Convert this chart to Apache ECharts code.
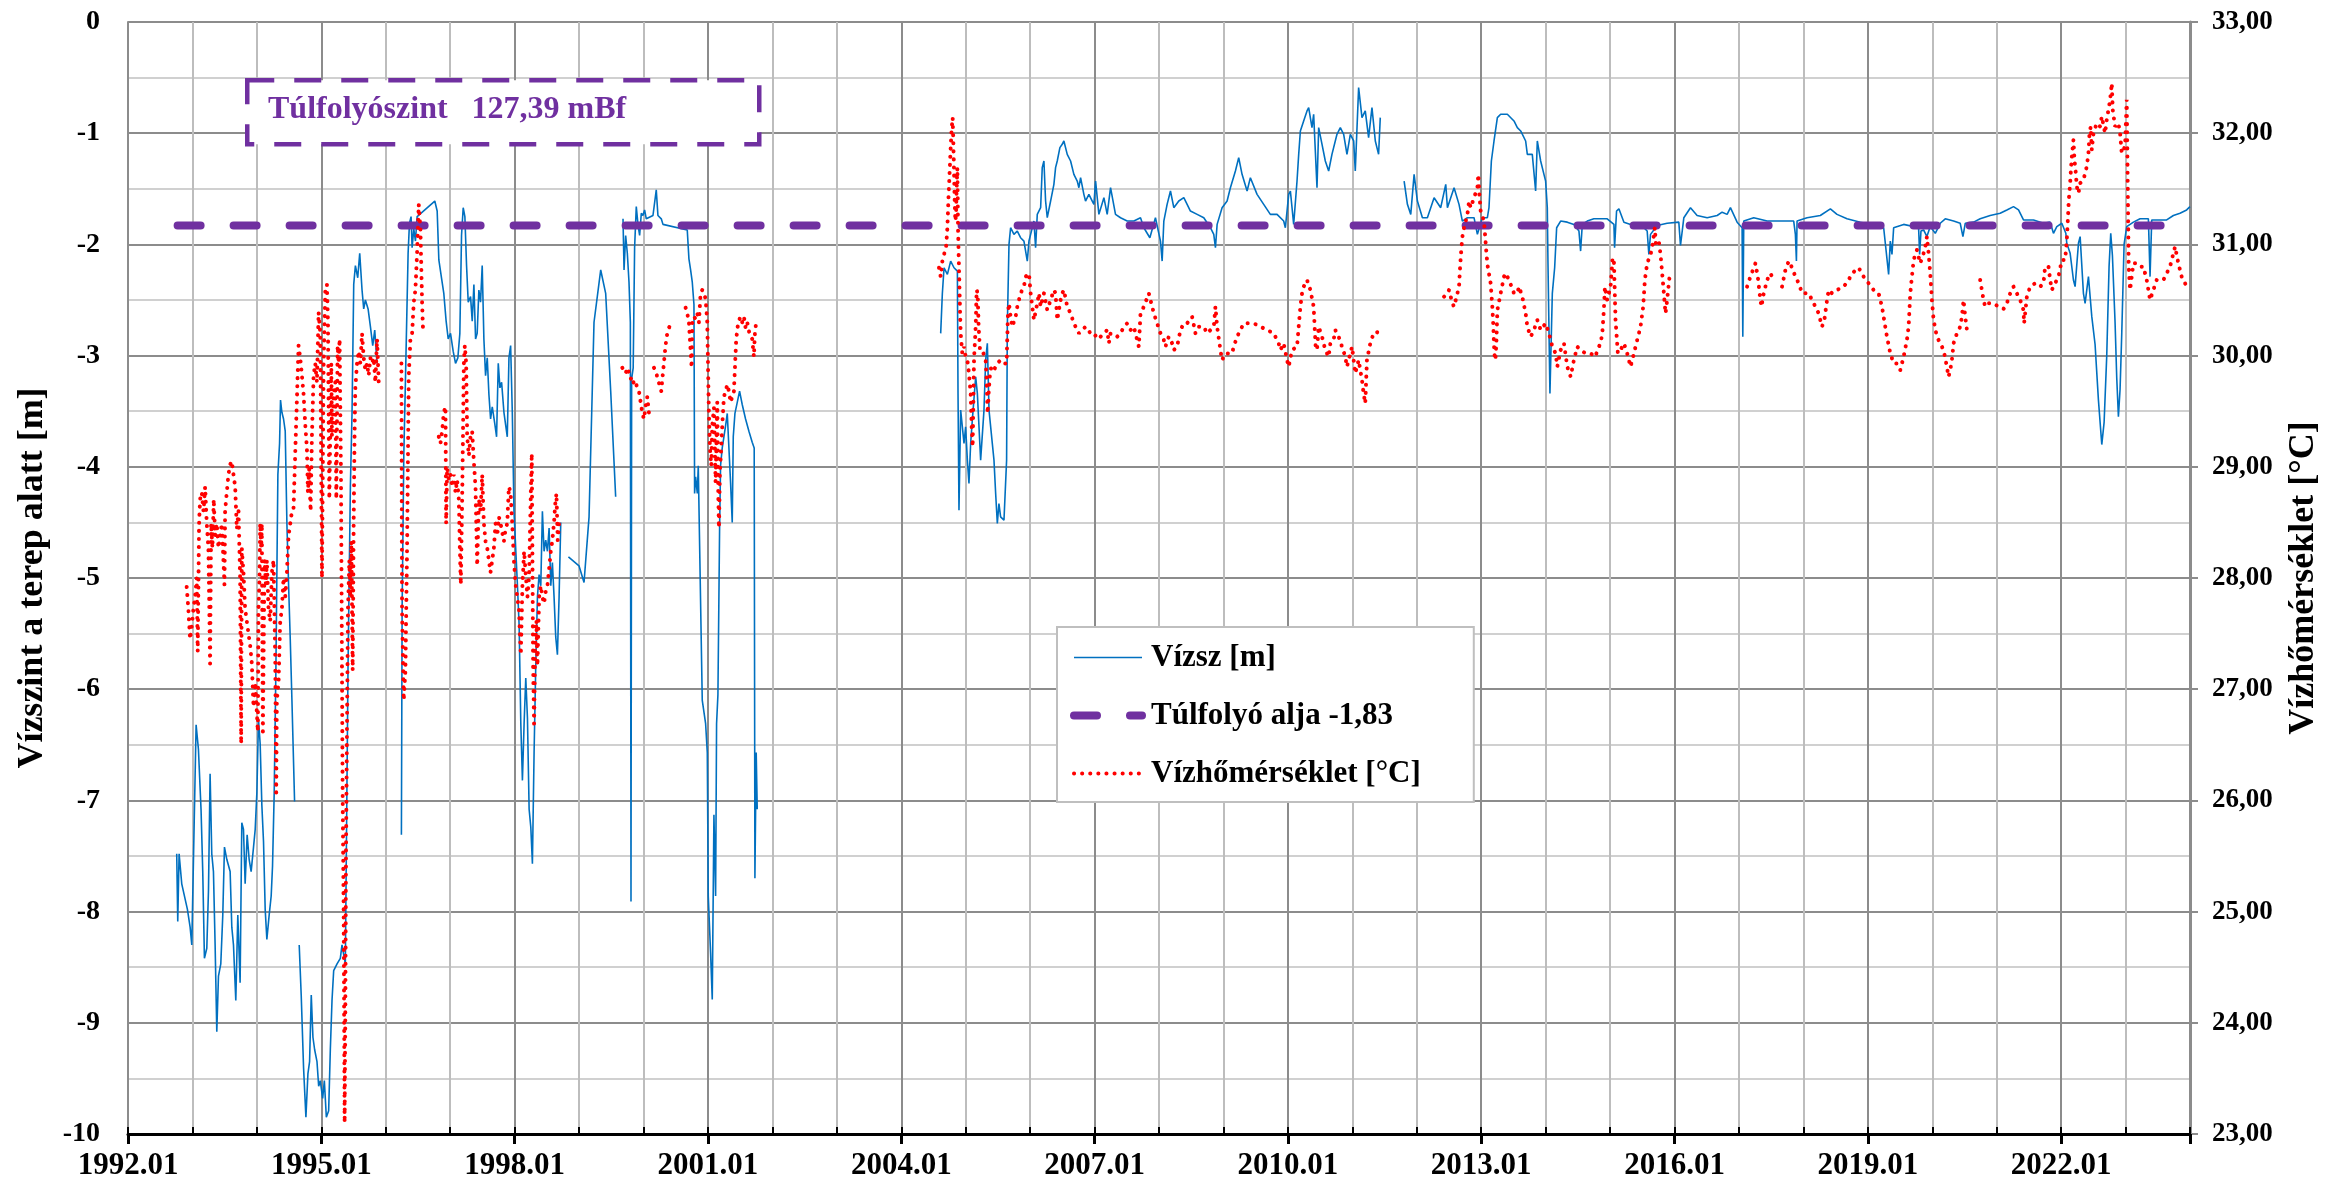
<!DOCTYPE html>
<html>
<head>
<meta charset="utf-8">
<script src="https://cdn.jsdelivr.net/npm/echarts@6/dist/echarts.min.js"></script>
<style>
  html, body { margin: 0; padding: 0; background: #fff; }
  #main { width: 2326px; height: 1189px; }
</style>
</head>
<body>
<div id="main"></div>
<script>
// --- data: [year, value] ---
// water level below ground [m], one array per measured period
var level1992 = [[1992.756,-7.48],[1992.772,-8.09],[1992.793,-7.48],[1992.834,-7.75],[1992.922,-7.98],[1992.964,-8.14],[1992.990,-8.30],[1993.057,-6.32],[1993.093,-6.54],[1993.134,-7.09],[1993.160,-7.64],[1993.186,-8.42],[1993.223,-8.33],[1993.249,-7.81],[1993.274,-6.76],[1993.300,-7.48],[1993.326,-7.64],[1993.352,-8.30],[1993.378,-9.08],[1993.404,-8.58],[1993.440,-8.47],[1993.471,-8.03],[1993.497,-7.42],[1993.533,-7.53],[1993.585,-7.64],[1993.611,-8.14],[1993.637,-8.30],[1993.673,-8.80],[1993.704,-8.03],[1993.740,-8.64],[1993.766,-7.20],[1993.792,-7.26],[1993.818,-7.75],[1993.849,-7.31],[1993.880,-7.53],[1993.911,-7.64],[1993.948,-7.42],[1993.974,-7.26],[1994.000,-6.93],[1994.025,-6.27],[1994.051,-6.49],[1994.077,-7.04],[1994.103,-7.37],[1994.129,-7.98],[1994.155,-8.25],[1994.191,-8.03],[1994.222,-7.86],[1994.243,-7.59],[1994.269,-6.93],[1994.295,-5.83],[1994.326,-4.07],[1994.352,-3.79],[1994.367,-3.40],[1994.388,-3.51],[1994.414,-3.57],[1994.440,-3.68],[1994.466,-4.51],[1994.492,-5.06],[1994.518,-5.55],[1994.544,-6.10],[1994.585,-7.01]];
var level1994 = [[1994.657,-8.30],[1994.688,-8.75],[1994.725,-9.41],[1994.761,-9.85],[1994.792,-9.46],[1994.818,-9.35],[1994.844,-8.75],[1994.870,-9.13],[1994.896,-9.24],[1994.933,-9.35],[1994.959,-9.57],[1994.984,-9.52],[1995.021,-9.68],[1995.047,-9.52],[1995.078,-9.85],[1995.114,-9.79],[1995.140,-9.24],[1995.166,-8.80],[1995.192,-8.53],[1995.244,-8.47],[1995.295,-8.42],[1995.321,-8.30],[1995.373,-8.47],[1995.414,-5.83],[1995.451,-4.18],[1995.477,-3.51],[1995.503,-2.36],[1995.529,-2.19],[1995.565,-2.30],[1995.596,-2.08],[1995.632,-2.41],[1995.658,-2.58],[1995.684,-2.50],[1995.726,-2.58],[1995.762,-2.74],[1995.798,-2.91],[1995.829,-2.77],[1995.865,-3.07]];
var level1996 = [[1996.243,-7.31],[1996.254,-5.28],[1996.280,-3.90],[1996.305,-3.24],[1996.347,-2.08],[1996.368,-1.81],[1996.393,-1.75],[1996.409,-2.03],[1996.435,-1.86],[1996.461,-1.97],[1996.487,-1.75],[1996.761,-1.61],[1996.798,-1.70],[1996.824,-2.14],[1996.865,-2.30],[1996.901,-2.44],[1996.937,-2.69],[1996.969,-2.85],[1997.005,-2.80],[1997.046,-2.96],[1997.083,-3.07],[1997.119,-3.02],[1997.150,-2.80],[1997.176,-1.92],[1997.202,-1.67],[1997.228,-1.75],[1997.254,-2.19],[1997.280,-2.52],[1997.316,-2.47],[1997.342,-2.69],[1997.368,-2.36],[1997.394,-2.85],[1997.419,-2.80],[1997.445,-2.41],[1997.471,-2.52],[1997.497,-2.19],[1997.523,-2.85],[1997.549,-3.18],[1997.575,-3.02],[1997.601,-3.35],[1997.627,-3.57],[1997.653,-3.46],[1997.694,-3.62],[1997.720,-3.73],[1997.746,-3.07],[1997.772,-3.29],[1997.798,-3.24],[1997.834,-3.51],[1997.860,-3.62],[1997.886,-3.73],[1997.912,-3.02],[1997.938,-2.91],[1997.964,-3.51],[1997.990,-4.40],[1998.044,-5.07],[1998.070,-5.43],[1998.096,-6.31],[1998.121,-6.82],[1998.147,-6.31],[1998.173,-5.90],[1998.199,-6.26],[1998.225,-7.08],[1998.251,-7.24],[1998.276,-7.57],[1998.302,-6.57],[1998.328,-5.79],[1998.354,-5.17],[1998.380,-4.97],[1998.406,-5.07],[1998.431,-4.40],[1998.457,-4.76],[1998.483,-4.66],[1998.509,-4.76],[1998.535,-4.55],[1998.561,-5.07],[1998.586,-4.86],[1998.612,-5.17],[1998.638,-5.53],[1998.664,-5.69],[1998.690,-5.17],[1998.716,-4.50]];
var level1998 = [[1998.835,-4.81],[1998.999,-4.89],[1999.077,-5.04],[1999.155,-4.45],[1999.232,-2.70],[1999.336,-2.23],[1999.413,-2.44],[1999.491,-3.32],[1999.568,-4.27]];
var level1999 = [[1999.682,-1.77],[1999.698,-2.23],[1999.723,-1.92],[1999.749,-2.08],[1999.775,-2.34],[1999.796,-2.70],[1999.806,-7.91],[1999.816,-3.21],[1999.840,-3.11],[1999.862,-2.03],[1999.888,-1.66],[1999.914,-1.82],[1999.940,-1.92],[1999.966,-1.72],[1999.991,-1.74],[2000.017,-1.69],[2000.043,-1.77],[2000.147,-1.74],[2000.198,-1.51],[2000.224,-1.74],[2000.276,-1.77],[2000.302,-1.82],[2000.679,-1.87],[2000.705,-2.13],[2000.731,-2.23],[2000.757,-2.34],[2000.783,-2.54],[2000.793,-4.24],[2000.809,-4.09],[2000.835,-4.24],[2000.850,-3.99],[2000.912,-6.10],[2000.964,-6.31],[2000.990,-6.57],[2001.005,-7.86],[2001.041,-8.37],[2001.067,-8.79],[2001.093,-7.13],[2001.119,-7.86],[2001.134,-6.31],[2001.155,-6.05],[2001.181,-4.55],[2001.196,-3.99],[2001.222,-3.83],[2001.248,-3.73],[2001.274,-3.63],[2001.300,-3.52],[2001.326,-3.52],[2001.351,-4.14],[2001.377,-4.50],[2001.393,-3.73],[2001.419,-3.52],[2001.455,-3.42],[2001.491,-3.32],[2001.532,-3.44],[2001.584,-3.57],[2001.636,-3.68],[2001.687,-3.78],[2001.718,-3.83],[2001.729,-7.70],[2001.749,-6.57],[2001.765,-7.08]];
var level2004 = [[2004.612,-2.80],[2004.638,-2.44],[2004.664,-2.21],[2004.716,-2.27],[2004.767,-2.15],[2004.819,-2.21],[2004.871,-2.24],[2004.881,-3.34],[2004.896,-4.39],[2004.922,-3.49],[2004.974,-3.79],[2004.999,-3.64],[2005.026,-3.94],[2005.051,-4.15],[2005.077,-3.79],[2005.103,-3.58],[2005.155,-3.19],[2005.181,-3.34],[2005.232,-3.94],[2005.284,-3.49],[2005.310,-3.04],[2005.336,-2.89],[2005.362,-3.49],[2005.413,-3.79],[2005.439,-3.94],[2005.465,-4.24],[2005.491,-4.51],[2005.516,-4.33],[2005.542,-4.45],[2005.594,-4.48],[2005.635,-3.94],[2005.646,-2.74],[2005.672,-2.00],[2005.697,-1.85],[2005.749,-1.91],[2005.801,-1.88],[2005.852,-1.94],[2005.904,-1.97],[2005.956,-2.15],[2005.982,-1.97],[2006.008,-1.91],[2006.059,-1.79],[2006.085,-2.03],[2006.111,-1.73],[2006.163,-1.67],[2006.188,-1.31],[2006.214,-1.25],[2006.240,-1.61],[2006.266,-1.76],[2006.318,-1.61],[2006.369,-1.46],[2006.395,-1.31],[2006.421,-1.25],[2006.462,-1.13],[2006.498,-1.10],[2006.524,-1.07],[2006.576,-1.19],[2006.628,-1.25],[2006.679,-1.37],[2006.731,-1.43],[2006.757,-1.49],[2006.783,-1.40],[2006.834,-1.55],[2006.860,-1.61],[2006.912,-1.55],[2006.964,-1.61],[2006.990,-1.64],[2007.016,-1.43],[2007.067,-1.73],[2007.145,-1.58],[2007.196,-1.73],[2007.248,-1.49],[2007.325,-1.73],[2007.403,-1.76],[2007.506,-1.79],[2007.610,-1.79],[2007.713,-1.76],[2007.765,-1.85],[2007.858,-1.94],[2007.945,-1.76],[2008.023,-1.97],[2008.049,-2.15],[2008.075,-1.79],[2008.126,-1.64],[2008.178,-1.52],[2008.230,-1.67],[2008.307,-1.61],[2008.385,-1.58],[2008.488,-1.70],[2008.592,-1.73],[2008.695,-1.76],[2008.798,-1.85],[2008.850,-1.91],[2008.876,-2.03],[2008.902,-1.82],[2008.979,-1.67],[2009.057,-1.61],[2009.108,-1.49],[2009.186,-1.34],[2009.237,-1.22],[2009.289,-1.37],[2009.367,-1.52],[2009.418,-1.40],[2009.522,-1.55],[2009.625,-1.64],[2009.728,-1.73],[2009.832,-1.73],[2009.935,-1.79],[2009.961,-1.85],[2010.013,-1.55],[2010.039,-1.52],[2010.090,-1.82],[2010.142,-1.43],[2010.168,-1.19],[2010.194,-0.98],[2010.245,-0.89],[2010.297,-0.80],[2010.323,-0.77],[2010.374,-0.95],[2010.400,-0.83],[2010.426,-1.16],[2010.452,-1.49],[2010.478,-0.95],[2010.530,-1.10],[2010.581,-1.25],[2010.633,-1.34],[2010.684,-1.19],[2010.762,-1.01],[2010.814,-0.95],[2010.866,-1.01],[2010.917,-1.19],[2010.969,-1.01],[2011.021,-1.07],[2011.046,-1.34],[2011.098,-0.59],[2011.150,-0.86],[2011.201,-0.80],[2011.253,-1.04],[2011.305,-0.77],[2011.357,-1.07],[2011.408,-1.19],[2011.434,-0.86]];
var level2011 = [[2011.804,-1.43],[2011.855,-1.64],[2011.907,-1.73],[2011.959,-1.37],[2012.010,-1.61],[2012.088,-1.76],[2012.165,-1.76],[2012.269,-1.58],[2012.372,-1.67],[2012.450,-1.46],[2012.476,-1.67],[2012.579,-1.49],[2012.656,-1.64],[2012.708,-1.79],[2012.786,-1.76],[2012.889,-1.76],[2012.941,-1.91],[2013.018,-1.76],[2013.096,-1.76],[2013.121,-1.67],[2013.158,-1.25],[2013.199,-1.07],[2013.251,-0.86],[2013.302,-0.83],[2013.406,-0.83],[2013.509,-0.89],[2013.561,-0.95],[2013.613,-0.98],[2013.690,-1.07],[2013.716,-1.19],[2013.793,-1.19],[2013.845,-1.52],[2013.871,-1.07],[2013.923,-1.25],[2013.974,-1.37],[2014.000,-1.43],[2014.026,-1.67],[2014.036,-2.15],[2014.067,-3.34],[2014.088,-3.34],[2014.104,-2.44],[2014.140,-2.21],[2014.171,-1.85],[2014.233,-1.79],[2014.336,-1.80],[2014.439,-1.82],[2014.517,-1.88],[2014.543,-2.06],[2014.569,-1.82],[2014.646,-1.79],[2014.749,-1.77],[2014.853,-1.77],[2014.956,-1.77],[2015.060,-1.82],[2015.070,-2.03],[2015.101,-1.70],[2015.137,-1.68],[2015.215,-1.80],[2015.318,-1.82],[2015.473,-1.82],[2015.576,-1.88],[2015.602,-2.09],[2015.628,-1.91],[2015.731,-1.83],[2015.886,-1.81],[2016.067,-1.80],[2016.093,-2.01],[2016.145,-1.76],[2016.248,-1.67],[2016.351,-1.74],[2016.507,-1.76],[2016.662,-1.74],[2016.739,-1.71],[2016.817,-1.73],[2016.868,-1.67],[2016.972,-1.80],[2017.049,-1.85],[2017.060,-2.83],[2017.075,-1.79],[2017.230,-1.76],[2017.437,-1.79],[2017.644,-1.79],[2017.850,-1.79],[2017.876,-1.91],[2017.892,-2.15],[2017.902,-1.79],[2018.057,-1.76],[2018.263,-1.74],[2018.419,-1.68],[2018.522,-1.73],[2018.677,-1.77],[2018.884,-1.80],[2019.039,-1.82],[2019.246,-1.85],[2019.323,-2.27],[2019.349,-1.97],[2019.375,-2.09],[2019.401,-1.85],[2019.556,-1.82],[2019.788,-1.85],[2019.804,-2.09],[2019.825,-1.88],[2019.866,-1.87],[2019.917,-1.93],[2019.969,-1.84],[2020.047,-1.90],[2020.124,-1.81],[2020.202,-1.77],[2020.331,-1.79],[2020.434,-1.81],[2020.476,-1.93],[2020.512,-1.81],[2020.641,-1.80],[2020.744,-1.77],[2020.899,-1.74],[2021.054,-1.72],[2021.158,-1.69],[2021.261,-1.66],[2021.339,-1.69],[2021.416,-1.78],[2021.571,-1.78],[2021.726,-1.81],[2021.830,-1.80],[2021.881,-1.90],[2021.933,-1.84],[2022.011,-1.81],[2022.073,-1.90],[2022.088,-1.99],[2022.140,-2.08],[2022.191,-2.32],[2022.217,-2.38],[2022.269,-1.99],[2022.295,-1.93],[2022.346,-2.44],[2022.372,-2.53],[2022.424,-2.29],[2022.476,-2.65],[2022.527,-2.90],[2022.579,-3.40],[2022.631,-3.80],[2022.667,-3.60],[2022.708,-3.00],[2022.744,-2.20],[2022.770,-1.90],[2022.796,-2.10],[2022.837,-2.70],[2022.863,-3.20],[2022.889,-3.55],[2022.915,-3.30],[2022.941,-2.80],[2022.977,-2.00],[2023.018,-1.84],[2023.122,-1.80],[2023.225,-1.77],[2023.354,-1.77],[2023.380,-2.29],[2023.406,-1.78],[2023.535,-1.78],[2023.638,-1.78],[2023.742,-1.74],[2023.845,-1.72],[2023.948,-1.69],[2024.000,-1.66]];

// water temperature [°C], one array per measured period
var temp1992 = [[1992.911,27.92],[1992.937,27.72],[1992.963,27.45],[1992.989,27.56],[1993.015,27.72],[1993.041,27.83],[1993.067,28.00],[1993.082,27.34],[1993.103,28.49],[1993.119,28.71],[1993.145,28.77],[1993.171,28.60],[1993.197,28.82],[1993.222,28.49],[1993.248,28.27],[1993.274,27.23],[1993.290,28.49],[1993.310,28.27],[1993.331,28.71],[1993.352,28.38],[1993.378,28.49],[1993.404,28.27],[1993.430,28.38],[1993.455,28.49],[1993.481,28.16],[1993.497,27.94],[1993.507,28.60],[1993.533,28.77],[1993.559,28.93],[1993.585,29.02],[1993.611,29.05],[1993.637,28.93],[1993.663,28.82],[1993.689,28.44],[1993.715,28.60],[1993.740,28.00],[1993.756,26.51],[1993.766,28.27],[1993.792,28.05],[1993.818,27.72],[1993.844,27.61],[1993.870,27.50],[1993.896,27.39],[1993.922,27.23],[1993.948,26.84],[1993.974,27.06],[1994.000,26.79],[1994.015,26.62],[1994.025,27.72],[1994.041,28.00],[1994.051,28.49],[1994.067,28.27],[1994.077,28.49],[1994.093,26.62],[1994.119,28.16],[1994.139,27.94],[1994.155,28.16],[1994.181,27.72],[1994.207,27.61],[1994.233,28.05],[1994.259,28.16],[1994.285,27.28],[1994.300,26.07],[1994.310,26.90],[1994.336,27.06],[1994.362,27.61],[1994.388,27.72],[1994.414,28.00],[1994.440,27.83],[1994.466,28.05],[1994.492,28.38],[1994.518,28.49],[1994.544,28.60],[1994.569,28.63],[1994.647,30.09],[1994.673,29.98],[1994.699,29.82],[1994.725,29.65],[1994.751,29.38],[1994.777,29.16],[1994.792,28.77],[1994.813,28.99],[1994.834,28.60],[1994.854,29.27],[1994.880,29.82],[1994.906,29.93],[1994.932,29.76],[1994.958,30.39],[1994.984,30.20],[1995.010,28.00],[1995.036,29.93],[1995.062,30.59],[1995.087,30.64],[1995.103,30.31],[1995.124,28.71],[1995.155,29.93],[1995.165,29.27],[1995.191,29.65],[1995.217,29.76],[1995.233,28.71],[1995.253,30.09],[1995.269,29.93],[1995.284,30.15],[1995.305,28.93],[1995.321,27.17],[1995.331,26.07],[1995.347,24.97],[1995.362,23.10],[1995.373,24.14],[1995.383,25.52],[1995.398,26.62],[1995.414,27.72],[1995.435,28.16],[1995.450,27.83],[1995.466,28.33],[1995.487,27.17],[1995.502,28.49],[1995.518,29.38],[1995.528,29.71],[1995.554,29.93],[1995.580,30.04],[1995.606,29.93],[1995.632,30.20],[1995.658,29.98],[1995.684,29.87],[1995.709,29.93],[1995.735,29.82],[1995.761,29.98],[1995.787,29.93],[1995.813,29.98],[1995.839,29.76],[1995.865,30.15],[1995.891,29.76]];
var temp1996 = [[1996.243,29.93],[1996.253,27.72],[1996.279,26.90],[1996.305,27.17],[1996.331,28.27],[1996.357,29.82],[1996.383,30.15],[1996.409,30.20],[1996.435,30.48],[1996.460,30.59],[1996.486,30.92],[1996.512,31.36],[1996.538,31.14],[1996.564,30.48],[1996.580,30.20]];
var temp1997 = [[1996.823,29.27],[1996.849,29.21],[1996.875,29.32],[1996.901,29.49],[1996.927,29.54],[1996.937,28.49],[1996.953,28.99],[1996.979,28.88],[1997.004,28.93],[1997.030,28.82],[1997.056,28.93],[1997.082,28.77],[1997.108,28.88],[1997.134,28.71],[1997.150,28.27],[1997.165,27.94],[1997.186,28.71],[1997.212,29.93],[1997.227,30.09],[1997.248,29.93],[1997.264,29.27],[1997.290,29.10],[1997.315,29.27],[1997.341,29.32],[1997.367,29.05],[1997.393,28.82],[1997.419,28.11],[1997.445,28.71],[1997.471,28.60],[1997.497,28.93],[1997.523,28.49],[1997.549,28.33],[1997.575,28.27],[1997.600,28.16],[1997.626,28.05],[1997.652,28.16],[1997.678,28.27],[1997.704,28.49],[1997.730,28.38],[1997.756,28.55],[1997.782,28.49],[1997.808,28.49],[1997.834,28.33],[1997.860,28.44],[1997.885,28.49],[1997.911,28.82],[1997.937,28.77],[1997.963,28.49],[1997.989,28.16],[1998.015,27.94],[1998.041,27.83],[1998.067,27.72],[1998.096,27.31],[1998.121,27.93],[1998.147,28.24],[1998.173,28.03],[1998.199,27.83],[1998.225,28.03],[1998.251,28.76],[1998.266,29.12],[1998.276,28.24],[1998.287,27.21],[1998.302,26.69],[1998.318,27.36],[1998.338,27.62],[1998.354,27.21],[1998.380,27.83],[1998.406,27.93],[1998.431,27.83],[1998.457,27.77],[1998.483,27.88],[1998.509,27.93],[1998.535,28.08],[1998.561,28.24],[1998.586,28.34],[1998.612,28.50],[1998.628,28.65],[1998.649,28.76],[1998.669,28.34],[1998.690,28.50]];
var temp1999 = [[1999.672,29.89],[1999.698,29.86],[1999.723,29.84],[1999.749,29.89],[1999.775,29.84],[1999.801,29.79],[1999.827,29.81],[1999.852,29.74],[1999.878,29.76],[1999.904,29.71],[1999.930,29.68],[1999.956,29.58],[1999.982,29.48],[2000.008,29.43],[2000.034,29.55],[2000.059,29.63],[2000.085,29.48]];
var temp2000 = [[2000.163,29.89],[2000.189,29.86],[2000.276,29.68],[2000.292,29.79],[2000.318,29.94],[2000.344,30.10],[2000.369,30.20],[2000.395,30.25],[2000.421,30.28],[2000.447,30.30]];
var temp2000b = [[2000.654,30.43],[2000.679,30.38],[2000.705,30.30],[2000.731,30.30],[2000.747,29.89],[2000.757,30.30],[2000.783,30.35],[2000.809,30.33],[2000.835,30.38],[2000.860,30.30],[2000.886,30.56],[2000.912,30.59],[2000.938,30.56],[2000.964,30.51],[2000.990,30.30],[2001.005,29.79],[2001.015,29.48],[2001.031,29.17],[2001.052,29.01],[2001.067,29.37],[2001.093,29.53],[2001.108,29.17],[2001.119,28.86],[2001.134,29.27],[2001.145,29.58],[2001.160,28.76],[2001.171,28.45],[2001.186,28.96],[2001.207,29.17],[2001.222,29.37],[2001.248,29.63],[2001.274,29.68],[2001.300,29.74],[2001.326,29.68],[2001.351,29.58],[2001.377,29.58],[2001.403,29.68],[2001.419,29.89],[2001.439,30.15],[2001.470,30.30],[2001.506,30.35],[2001.532,30.30],[2001.558,30.35],[2001.584,30.25],[2001.610,30.30],[2001.636,30.22],[2001.662,30.17],[2001.687,30.15],[2001.713,29.99],[2001.729,30.20],[2001.749,30.30],[2001.765,30.33]];
var temp2004 = [[2004.586,30.79],[2004.612,30.71],[2004.638,30.85],[2004.664,30.91],[2004.695,30.97],[2004.716,31.15],[2004.731,31.39],[2004.747,31.60],[2004.767,31.87],[2004.783,32.05],[2004.798,32.14],[2004.809,31.90],[2004.819,31.66],[2004.829,31.39],[2004.840,31.21],[2004.850,31.27],[2004.860,31.51],[2004.871,31.69],[2004.881,31.15],[2004.896,30.79],[2004.912,30.41],[2004.922,30.20],[2004.948,30.02],[2004.974,30.08],[2004.999,29.99],[2005.026,29.96],[2005.051,29.84],[2005.077,29.66],[2005.093,29.36],[2005.108,29.18],[2005.129,29.96],[2005.155,30.26],[2005.170,30.59],[2005.186,30.56],[2005.201,30.26],[2005.222,30.05],[2005.258,30.05],[2005.310,29.96],[2005.325,29.78],[2005.341,29.48],[2005.356,29.66],[2005.377,29.84],[2005.398,29.90],[2005.439,29.87],[2005.491,29.93],[2005.542,29.96],[2005.594,29.93],[2005.635,29.93],[2005.646,30.17],[2005.656,30.38],[2005.672,30.47],[2005.697,30.35],[2005.723,30.26],[2005.775,30.35],[2005.801,30.44],[2005.852,30.56],[2005.904,30.62],[2005.930,30.71],[2005.982,30.74],[2006.008,30.56],[2006.059,30.32],[2006.111,30.47],[2006.137,30.56],[2006.163,30.44],[2006.214,30.56],[2006.266,30.41],[2006.318,30.50],[2006.369,30.59],[2006.395,30.56],[2006.421,30.32],[2006.473,30.50],[2006.498,30.56],[2006.524,30.59],[2006.576,30.44],[2006.628,30.38],[2006.679,30.29],[2006.731,30.23],[2006.757,30.20],[2006.809,30.23],[2006.860,30.26],[2006.938,30.20],[2006.990,30.17],[2007.067,30.20],[2007.093,30.17],[2007.145,30.20],[2007.196,30.23],[2007.222,30.11],[2007.248,30.20],[2007.351,30.17],[2007.403,30.20],[2007.455,30.26],[2007.506,30.29],[2007.558,30.23],[2007.610,30.26],[2007.661,30.14],[2007.687,30.08],[2007.713,30.38],[2007.765,30.44],[2007.842,30.56],[2007.868,30.50],[2007.920,30.38],[2007.971,30.29],[2008.023,30.20],[2008.075,30.14],[2008.100,30.08],[2008.152,30.17],[2008.204,30.11],[2008.230,30.05],[2008.281,30.08],[2008.333,30.23],[2008.385,30.29],[2008.436,30.29],[2008.514,30.35],[2008.566,30.20],[2008.617,30.26],[2008.695,30.26],[2008.747,30.20],[2008.850,30.26],[2008.876,30.44],[2008.902,30.26],[2008.953,30.05],[2008.979,29.96],[2009.031,30.02],[2009.083,30.02],[2009.134,30.02],[2009.160,30.08],[2009.212,30.17],[2009.263,30.23],[2009.315,30.29],[2009.367,30.29],[2009.470,30.29],[2009.574,30.26],[2009.677,30.23],[2009.780,30.20],[2009.858,30.11],[2009.884,30.05],[2009.935,30.11],[2009.987,29.96],[2010.013,29.90],[2010.065,30.05],[2010.142,30.08],[2010.168,30.26],[2010.194,30.44],[2010.220,30.56],[2010.245,30.62],[2010.297,30.68],[2010.349,30.59],[2010.400,30.44],[2010.431,30.08],[2010.452,30.05],[2010.478,30.26],[2010.530,30.17],[2010.581,30.05],[2010.633,29.99],[2010.659,30.11],[2010.710,30.14],[2010.736,30.23],[2010.788,30.17],[2010.840,30.08],[2010.891,29.99],[2010.917,29.90],[2010.969,30.02],[2010.995,30.08],[2011.046,29.84],[2011.098,29.96],[2011.150,29.78],[2011.175,29.66],[2011.201,29.57],[2011.227,29.96],[2011.279,30.11],[2011.330,30.20],[2011.382,30.20],[2011.408,30.26]];
var temp2012 = [[2012.424,30.53],[2012.476,30.56],[2012.501,30.59],[2012.553,30.47],[2012.579,30.44],[2012.631,30.56],[2012.656,30.62],[2012.672,30.79],[2012.693,30.97],[2012.713,31.09],[2012.734,31.15],[2012.786,31.27],[2012.812,31.39],[2012.837,31.33],[2012.889,31.42],[2012.941,31.51],[2012.956,31.63],[2012.972,31.45],[2012.992,31.30],[2013.044,31.21],[2013.075,30.97],[2013.096,30.82],[2013.147,30.65],[2013.173,30.44],[2013.189,30.26],[2013.204,30.02],[2013.220,29.96],[2013.235,30.11],[2013.251,30.41],[2013.302,30.56],[2013.354,30.71],[2013.380,30.74],[2013.432,30.68],[2013.509,30.56],[2013.561,30.56],[2013.587,30.62],[2013.638,30.53],[2013.690,30.38],[2013.716,30.26],[2013.768,30.17],[2013.819,30.23],[2013.871,30.32],[2013.923,30.23],[2014.000,30.29],[2014.052,30.20],[2014.104,30.08],[2014.155,30.02],[2014.181,29.90],[2014.233,30.05],[2014.285,30.11],[2014.336,29.90],[2014.388,29.81],[2014.439,29.96],[2014.491,30.08],[2014.543,30.05],[2014.620,30.02],[2014.698,30.02],[2014.775,29.99],[2014.801,30.05],[2014.853,30.11],[2014.879,30.20],[2014.904,30.41],[2014.920,30.62],[2014.956,30.50],[2015.008,30.62],[2015.039,30.88],[2015.060,30.85],[2015.085,30.32],[2015.121,30.02],[2015.163,30.05],[2015.215,30.11],[2015.266,30.02],[2015.318,29.90],[2015.370,30.02],[2015.421,30.14],[2015.473,30.26],[2015.514,30.44],[2015.540,30.68],[2015.576,30.83],[2015.628,30.91],[2015.654,30.97],[2015.695,31.15],[2015.711,31.00],[2015.757,31.03],[2015.783,30.91],[2015.809,30.74],[2015.835,30.56],[2015.861,30.38],[2015.886,30.50],[2015.928,30.74]];
var temp2017 = [[2017.127,30.62],[2017.178,30.71],[2017.230,30.79],[2017.256,30.83],[2017.292,30.71],[2017.333,30.50],[2017.349,30.44],[2017.385,30.56],[2017.437,30.68],[2017.489,30.74],[2017.514,30.71]];
var temp2017b = [[2017.669,30.62],[2017.721,30.77],[2017.773,30.85],[2017.825,30.79],[2017.876,30.71],[2017.928,30.65],[2017.980,30.56],[2018.031,30.56],[2018.083,30.56],[2018.134,30.50],[2018.186,30.44],[2018.237,30.38],[2018.289,30.26],[2018.326,30.32],[2018.367,30.50],[2018.393,30.59],[2018.444,30.56],[2018.522,30.59],[2018.626,30.62],[2018.703,30.68],[2018.755,30.74],[2018.858,30.79],[2018.935,30.71],[2019.013,30.65],[2019.090,30.59],[2019.168,30.56],[2019.220,30.44],[2019.245,30.35],[2019.297,30.17],[2019.349,30.02],[2019.401,29.93],[2019.452,29.93],[2019.504,29.87],[2019.556,29.99],[2019.607,30.14],[2019.633,30.26],[2019.659,30.56],[2019.685,30.71],[2019.711,30.86],[2019.762,30.95],[2019.814,30.83],[2019.866,30.92],[2019.892,30.98],[2019.917,31.07],[2019.943,30.92],[2019.969,30.74],[2019.995,30.50],[2020.021,30.32],[2020.072,30.17],[2020.124,30.11],[2020.176,30.05],[2020.227,29.90],[2020.253,29.81],[2020.279,29.87],[2020.305,29.96],[2020.331,30.11],[2020.383,30.20],[2020.434,30.26],[2020.460,30.35],[2020.486,30.50],[2020.512,30.35],[2020.538,30.23],[2020.563,30.20]];
var temp2020 = [[2020.744,30.68],[2020.770,30.59],[2020.796,30.50],[2020.822,30.44],[2020.873,30.47],[2020.951,30.47],[2021.028,30.44],[2021.106,30.42],[2021.158,30.47],[2021.210,30.56],[2021.261,30.62],[2021.313,30.56],[2021.365,30.50],[2021.416,30.41],[2021.426,30.29],[2021.468,30.53],[2021.520,30.62],[2021.597,30.65],[2021.675,30.62],[2021.726,30.65],[2021.752,30.80],[2021.804,30.80],[2021.830,30.68],[2021.856,30.59],[2021.907,30.65],[2021.959,30.71],[2022.011,30.86],[2022.062,30.86],[2022.088,31.04],[2022.104,31.22],[2022.119,31.40],[2022.140,31.55],[2022.155,31.70],[2022.171,31.82],[2022.191,31.94],[2022.207,31.76],[2022.228,31.64],[2022.243,31.52],[2022.269,31.46],[2022.295,31.55],[2022.346,31.58],[2022.398,31.70],[2022.424,31.82],[2022.440,32.00],[2022.460,32.06],[2022.476,31.85],[2022.502,32.00],[2022.553,32.09],[2022.605,32.06],[2022.631,32.15],[2022.682,32.00],[2022.708,32.12],[2022.734,32.21],[2022.760,32.30],[2022.786,32.45],[2022.801,32.21],[2022.837,32.06],[2022.889,32.09],[2022.915,32.00],[2022.941,31.82],[2022.992,31.88],[2023.018,32.30],[2023.034,31.52],[2023.049,30.80],[2023.070,30.59],[2023.122,30.83],[2023.173,30.83],[2023.225,30.80],[2023.277,30.80],[2023.328,30.68],[2023.380,30.50],[2023.432,30.59],[2023.483,30.68],[2023.535,30.68],[2023.587,30.68],[2023.638,30.74],[2023.690,30.80],[2023.742,30.92],[2023.768,30.98],[2023.819,30.83],[2023.871,30.71],[2023.923,30.65],[2023.974,30.59]];

// overflow level (Túlfolyó alja)
var overflowLevel = -1.83;
var overflowYears = [1992.77, 2024];

var levelName = 'Vízsz [m]';
var overflowName = 'Túlfolyó alja -1,83';
var tempName = 'Vízhőmérséklet [°C]';

// put a break between measured periods so the line is not joined across gaps
function joinPeriods(periods) {
  var out = [];
  periods.forEach(function (p, i) {
    if (i > 0) out.push([p[0][0] - 0.001, null]);
    out = out.concat(p);
  });
  return out;
}

var levelData = joinPeriods([level1992, level1994, level1996, level1998, level1999, level2004, level2011]);
var tempData = joinPeriods([temp1992, temp1996, temp1997, temp1999, temp2000, temp2000b, temp2004, temp2012, temp2017, temp2017b, temp2020]);
var overflowData = overflowYears.map(function (y) { return [y, overflowLevel]; });

var serif = '"Liberation Serif", "Times New Roman", serif';
var purple = '#7030A0';

var chart = echarts.init(document.getElementById('main'));
var option = {
  animation: false,
  backgroundColor: '#fff',
  grid: { left: 128, top: 22, width: 2062, height: 1112, containLabel: false, outerBoundsMode: 'none' },
  xAxis: [
    {
      type: 'value', min: 1992, max: 2024, interval: 1, position: 'bottom',
      axisLine: { show: true, onZero: false, lineStyle: { color: '#000', width: 3 } },
      axisTick: { show: true, inside: true, length: 7, lineStyle: { color: '#000', width: 2 } },
      axisLabel: { show: false },
      splitLine: { show: true, lineStyle: { color: ['#8c8c8c', '#bdbdbd', '#bdbdbd'], width: 2 } }
    },
    {
      type: 'value', min: 1992, max: 2024, interval: 3, position: 'bottom',
      axisLine: { show: false, onZero: false },
      axisTick: { show: true, inside: false, length: 10, lineStyle: { color: '#000', width: 3 } },
      axisLabel: {
        show: true, margin: 16, color: '#000', fontFamily: serif, fontSize: 31, fontWeight: 'bold',
        formatter: function (v) { return v <= 2022 ? v + '.01' : ''; }
      },
      splitLine: { show: false }
    }
  ],
  yAxis: [
    {
      type: 'value', min: -10, max: 0, interval: 1, position: 'left',
      name: 'Vízszint a terep alatt [m]', nameLocation: 'middle', nameRotate: 90, nameGap: 77,
      nameTextStyle: { color: '#000', fontFamily: serif, fontSize: 36, fontWeight: 'bold' },
      axisLine: { show: true, onZero: false, lineStyle: { color: '#8c8c8c', width: 2 } },
      axisTick: { show: false },
      axisLabel: { margin: 28, color: '#000', fontFamily: serif, fontSize: 28, fontWeight: 'bold' },
      splitLine: { show: true, lineStyle: { color: '#8c8c8c', width: 2 } },
      minorTick: { show: true, splitNumber: 2, length: 0, lineStyle: { width: 0, opacity: 0 } },
      minorSplitLine: { show: true, lineStyle: { color: '#d0d0d0', width: 2 } }
    },
    {
      type: 'value', min: 23, max: 33, interval: 1, position: 'right',
      name: 'Vízhőmérséklet [°C]', nameLocation: 'middle', nameRotate: 90, nameGap: 96,
      nameTextStyle: { color: '#000', fontFamily: serif, fontSize: 36, fontWeight: 'bold' },
      axisLine: { show: true, onZero: false, lineStyle: { color: '#8c8c8c', width: 3 } },
      axisTick: { show: true, inside: false, length: 8, lineStyle: { color: '#8c8c8c', width: 2 } },
      axisLabel: {
        margin: 22, color: '#000', fontFamily: serif, fontSize: 27, fontWeight: 'bold',
        formatter: function (v) { return v.toFixed(2).replace('.', ','); }
      },
      splitLine: { show: false }
    }
  ],
  legend: {
    orient: 'vertical', left: 1057, top: 627,
    padding: [15, 53, 13, 13],
    itemWidth: 68, itemHeight: 20, itemGap: 27,
    backgroundColor: '#fff', borderColor: '#bfbfbf', borderWidth: 2,
    selectedMode: false,
    itemStyle: { opacity: 0 },
    textStyle: { color: '#000', fontFamily: serif, fontSize: 31, fontWeight: 'bold', lineHeight: 31, padding: [0, 0, 0, 4] },
    data: [
      { name: levelName, itemStyle: { opacity: 0 }, lineStyle: { width: 1.6 } },
      { name: overflowName, itemStyle: { opacity: 0 }, lineStyle: { width: 8 } },
      { name: tempName, itemStyle: { opacity: 0 }, lineStyle: { width: 4 } }
    ]
  },
  graphic: [
    {
      type: 'rect', left: 245, top: 78, z: 50,
      shape: { width: 512, height: 64 },
      style: { fill: '#fff', stroke: purple, lineWidth: 4.5, lineDash: [27, 20] }
    },
    {
      type: 'text', x: 268, y: 110, z: 51,
      style: { text: 'Túlfolyószint   127,39 mBf', fill: purple, font: 'bold 32px ' + serif, verticalAlign: 'middle', align: 'left' }
    }
  ],
  series: [
    {
      name: levelName, type: 'line', xAxisIndex: 0, yAxisIndex: 0, data: levelData,
      symbol: 'none', showSymbol: false, connectNulls: false, z: 2,
      lineStyle: { color: '#0070C0', width: 1.6 }, itemStyle: { color: '#0070C0' }
    },
    {
      name: overflowName, type: 'line', xAxisIndex: 0, yAxisIndex: 0, data: overflowData,
      symbol: 'none', showSymbol: false, z: 3,
      lineStyle: { color: purple, width: 8, type: [23, 33], cap: 'round' }, itemStyle: { color: purple }
    },
    {
      name: tempName, type: 'line', xAxisIndex: 0, yAxisIndex: 1, data: tempData,
      symbol: 'none', showSymbol: false, connectNulls: false, z: 4,
      lineStyle: { color: '#FF0000', width: 4, type: [0.1, 8], cap: 'round' }, itemStyle: { color: '#FF0000' }
    }
  ]
};
chart.setOption(option);
</script>
</body>
</html>
